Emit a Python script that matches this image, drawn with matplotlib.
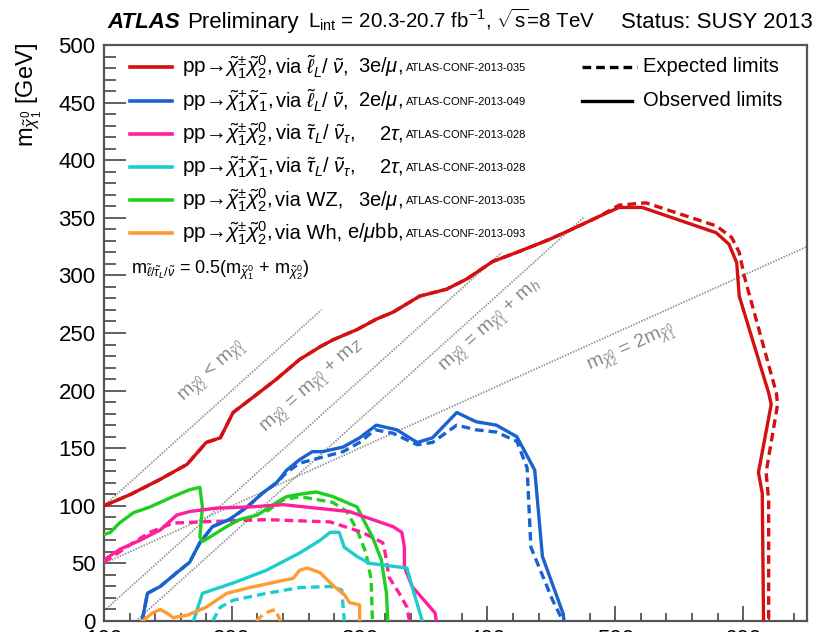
import matplotlib
matplotlib.use('Agg')
import matplotlib.pyplot as plt
from matplotlib.ticker import MultipleLocator

plt.rcParams['font.family'] = ['Liberation Sans', 'DejaVu Sans']
plt.rcParams['mathtext.fontset'] = 'custom'
plt.rcParams['mathtext.rm'] = 'Liberation Sans'
plt.rcParams['mathtext.it'] = 'Liberation Sans:italic'
plt.rcParams['mathtext.bf'] = 'Liberation Sans:bold'
plt.rcParams['mathtext.sf'] = 'Liberation Sans'

# ---------------- data (m_chi2/chi1pm [GeV], m_chi1^0 [GeV]) ----------------
red_obs_x = [100, 121, 144, 165, 180, 191, 201, 214, 235, 253, 269, 279, 298, 313, 326, 347, 368,
             384, 404, 423, 448, 466, 487, 503, 521, 579, 589, 595, 597, 620, 622, 612, 615, 616]
red_obs_y = [100, 110, 123, 136, 155, 159, 181, 192, 210, 227, 238, 244, 253, 262, 268, 282, 288,
             297, 312, 320, 331, 340, 351, 359, 359, 337, 327, 311, 282, 198, 188, 129, 111, 0]
red_exp_x = [100, 121, 144, 165, 180, 191, 201, 214, 235, 253, 269, 279, 298, 313, 326, 347, 368,
             384, 404, 423, 448, 466, 487, 503, 524, 579, 591, 597, 601, 626, 627, 618, 620, 620]
red_exp_y = [100, 110, 123, 136, 155, 159, 181, 192, 210, 227, 238, 244, 253, 262, 268, 282, 288,
             297, 312, 320, 331, 340, 351, 361, 363, 343, 333, 320, 299, 198, 188, 129, 105, 0]

blue_obs_x = [130, 134, 144, 157, 167, 175, 185, 198, 212, 224, 235, 243, 253, 263, 271, 287, 300,
              313, 329, 345, 357, 376, 391, 407, 423, 437, 443, 459, 460]
blue_obs_y = [1, 24, 30, 42, 51, 68, 82, 88, 99, 111, 120, 131, 140, 147, 147, 151, 159,
              170, 166, 155, 159, 181, 173, 170, 160, 131, 56, 7, 0]
blue_exp_x = [130, 134, 144, 157, 167, 175, 185, 198, 212, 224, 235, 243, 253, 287, 300, 312,
              326, 345, 357, 376, 391, 407, 423, 431, 434, 451, 459]
blue_exp_y = [1, 24, 30, 42, 51, 68, 82, 88, 99, 111, 120, 129, 137, 147, 155, 166,
              163, 153, 155, 170, 166, 164, 156, 133, 64, 18, 0]

green_obs_x = [100, 105, 112, 123, 136, 154, 167, 175, 177, 175, 177, 183, 196, 206, 220, 227, 235,
               243, 253, 266, 279, 298, 302, 310, 317, 321, 322]
green_obs_y = [75, 77, 85, 94, 99, 108, 114, 116, 99, 73, 69, 73, 82, 88, 92, 97, 103,
               108, 110, 112, 108, 99, 90, 73, 53, 24, 0]
green_exp_x = [227, 240, 253, 279, 290, 298, 305, 309, 310]
green_exp_y = [95, 105, 108, 103, 95, 79, 59, 36, 0]

pink_obs_x = [100, 112, 128, 144, 157, 167, 188, 214, 240, 266, 292, 305, 326, 333, 335, 335,
              341, 352, 359, 360]
pink_obs_y = [53, 62, 70, 79, 92, 95, 98, 99, 101, 98, 95, 90, 82, 77, 64, 47,
              30, 16, 7, 0]
pink_exp_x = [100, 123, 136, 154, 175, 227, 277, 302, 318, 320, 323, 331, 337, 339]
pink_exp_y = [51, 68, 77, 85, 86, 88, 86, 77, 68, 59, 38, 24, 12, 0]

cyan_obs_x = [170, 177, 201, 227, 253, 269, 277, 284, 288, 298, 308, 337, 341, 349]
cyan_obs_y = [0, 24, 33, 44, 59, 70, 77, 77, 64, 56, 50, 46, 30, 0]
cyan_exp_x = [185, 191, 201, 227, 253, 277, 286, 288]
cyan_exp_y = [0, 12, 18, 24, 29, 30, 27, 0]

orange_obs_x = [130, 138, 144, 149, 154, 165, 180, 196, 214, 235, 248, 253, 259, 269, 279, 288,
                292, 300, 300]
orange_obs_y = [0, 7, 10, 7, 3, 5, 12, 24, 29, 34, 37, 44, 46, 42, 31, 23,
                16, 14, 0]
orange_exp_x = [219, 226, 234, 238]
orange_exp_y = [0, 7, 10, 0]

# kinematic reference lines: (x_start, x_end, offset, slope) -> y = slope*x - offset
kin_lines = {
    'diag': (100, 270, 0.0, 1.0),
    'mZ': (100, 411, 91.2, 1.0),
    'mh': (125, 475, 125.0, 1.0),
    'two': (100, 650, 0.0, 0.5),
}

colors = {
    'red': '#d41010', 'blue': '#1a62d0', 'pink': '#ff1f9c',
    'cyan': '#1ccdd0', 'green': '#1fcf1f', 'orange': '#ff9a35',
}

legend_rows = [
    ('red', r'pp→$\tilde{\chi}_1^{\pm}\tilde{\chi}_2^{0}$,', r'via $\tilde{\ell}_L$/ $\tilde{\nu}$,', r'3e/$\mu$,', 'ATLAS-CONF-2013-035'),
    ('blue', r'pp→$\tilde{\chi}_1^{+}\tilde{\chi}_1^{-}$,', r'via $\tilde{\ell}_L$/ $\tilde{\nu}$,', r'2e/$\mu$,', 'ATLAS-CONF-2013-049'),
    ('pink', r'pp→$\tilde{\chi}_1^{\pm}\tilde{\chi}_2^{0}$,', r'via $\tilde{\tau}_L$/ $\tilde{\nu}_\tau$,', r'2$\tau$,', 'ATLAS-CONF-2013-028'),
    ('cyan', r'pp→$\tilde{\chi}_1^{+}\tilde{\chi}_1^{-}$,', r'via $\tilde{\tau}_L$/ $\tilde{\nu}_\tau$,', r'2$\tau$,', 'ATLAS-CONF-2013-028'),
    ('green', r'pp→$\tilde{\chi}_1^{\pm}\tilde{\chi}_2^{0}$,', 'via WZ,', r'3e/$\mu$,', 'ATLAS-CONF-2013-035'),
    ('orange', r'pp→$\tilde{\chi}_1^{\pm}\tilde{\chi}_2^{0}$,', 'via Wh,', r'e/$\mu$bb,', 'ATLAS-CONF-2013-093'),
]

xticks = [100, 200, 300, 400, 500, 600]
yticks = [0, 50, 100, 150, 200, 250, 300, 350, 400, 450, 500]

# ---------------- figure ----------------
W, H = 816, 632
fig = plt.figure(figsize=(W / 100, H / 100), dpi=100)
ax = fig.add_axes([104 / W, 11 / H, 703 / W, 576 / H])
ax.set_xlim(100, 650)
ax.set_ylim(0, 500)

frame_col = '#555555'
for s in ax.spines.values():
    s.set_color(frame_col)
    s.set_linewidth(1.6)

ax.set_xticks(xticks)
ax.set_yticks(yticks)
ax.xaxis.set_minor_locator(MultipleLocator(20))
ax.yaxis.set_minor_locator(MultipleLocator(10))
ax.tick_params(axis='both', which='both', direction='in', color=frame_col, width=1.3,
               top=False, right=False)
ax.tick_params(axis='y', which='major', length=16, labelsize=16, pad=6)
ax.tick_params(axis='y', which='minor', length=8.5)
ax.tick_params(axis='x', which='major', length=11, labelsize=16, pad=6)
ax.tick_params(axis='x', which='minor', length=5.5)

# kinematic lines
for key, (x0, x1, off, sl) in kin_lines.items():
    ax.plot([x0, x1], [sl * x0 - off, sl * x1 - off], color='#909090', lw=1.3,
            ls=(0, (0.8, 0.8)), zorder=1)

lbl_kw = dict(color='#8a8a8a', fontsize=14, ha='center', va='center',
              rotation_mode='anchor', transform_rotates_text=True)
ax.text(185, 216, r'm$_{\tilde{\chi}_2^0}$ < m$_{\tilde{\chi}_1^0}$', rotation=45, **lbl_kw)
ax.text(263, 203, r'm$_{\tilde{\chi}_2^0}$ = m$_{\tilde{\chi}_1^0}$ + m$_Z$', rotation=45, **lbl_kw)
ax.text(403, 256, r'm$_{\tilde{\chi}_2^0}$ = m$_{\tilde{\chi}_1^0}$ + m$_h$', rotation=45, **lbl_kw)
ax.text(512, 237, r'm$_{\tilde{\chi}_2^0}$ = 2m$_{\tilde{\chi}_1^0}$', rotation=26.57, **lbl_kw)

# exclusion contours
lw = 2.4
dash = (0, (2.6, 1.5))
curves = [
    ('red', red_obs_x, red_obs_y, red_exp_x, red_exp_y),
    ('blue', blue_obs_x, blue_obs_y, blue_exp_x, blue_exp_y),
    ('green', green_obs_x, green_obs_y, green_exp_x, green_exp_y),
    ('pink', pink_obs_x, pink_obs_y, pink_exp_x, pink_exp_y),
    ('cyan', cyan_obs_x, cyan_obs_y, cyan_exp_x, cyan_exp_y),
    ('orange', orange_obs_x, orange_obs_y, orange_exp_x, orange_exp_y),
]
for c, ox, oy, ex, ey in curves:
    ax.plot(ex, ey, color=colors[c], lw=lw, ls=dash, zorder=3)
    ax.plot(ox, oy, color=colors[c], lw=lw, zorder=4)

# legend (manual, in pixel-based figure coordinates)
def fx(px):
    return px / W

def fy(py):
    return 1 - py / H

row_y = [67, 101, 134, 167, 200, 233]
for (c, t1, t2, t3, t4), py in zip(legend_rows, row_y):
    fig.add_artist(plt.Line2D([fx(130), fx(172)], [fy(py), fy(py)], color=colors[c], lw=2.6))
    fig.text(fx(182), fy(py), t1, fontsize=15, va='center', color='black')
    fig.text(fx(275), fy(py), t2, fontsize=14.5, va='center', color='black')
    fig.text(fx(403), fy(py), t3, fontsize=14.5, va='center', ha='right', color='black')
    fig.text(fx(406), fy(py + 1), t4, fontsize=8, va='center', ha='left', color='black')

fig.add_artist(plt.Line2D([fx(582), fx(637)], [fy(67), fy(67)], color='black', lw=2.4, ls=dash))
fig.add_artist(plt.Line2D([fx(582), fx(632)], [fy(101), fy(101)], color='black', lw=2.4))
fig.text(fx(643), fy(67), 'Expected limits', fontsize=14.5, va='center', color='black')
fig.text(fx(643), fy(101), 'Observed limits', fontsize=14.5, va='center', color='black')

fig.text(fx(131), fy(270),
         r'm$_{\tilde{\ell}/\tilde{\tau}_L/\tilde{\nu}}$ = 0.5(m$_{\tilde{\chi}_1^0}$ + m$_{\tilde{\chi}_2^0}$)',
         fontsize=13, va='center', color='black')

# title line
ty = fy(28)
fig.text(fx(107), ty, 'ATLAS', fontsize=16, fontweight='bold', fontstyle='italic', va='baseline')
fig.text(fx(187), ty, 'Preliminary', fontsize=16, va='baseline')
fig.text(fx(308), ty, r'L$_{\rm int}$ = 20.3-20.7 fb$^{-1}$, $\sqrt{\rm s}$=8 TeV', fontsize=14.8, va='baseline')
fig.text(fx(813), ty, 'Status: SUSY 2013', fontsize=16, va='baseline', ha='right')

# y axis title
fig.text(fx(29), fy(43), r'm$_{\tilde{\chi}_1^0}$ [GeV]', fontsize=17, rotation=90,
         ha='center', va='top')

fig.savefig('out.png', dpi=100)
